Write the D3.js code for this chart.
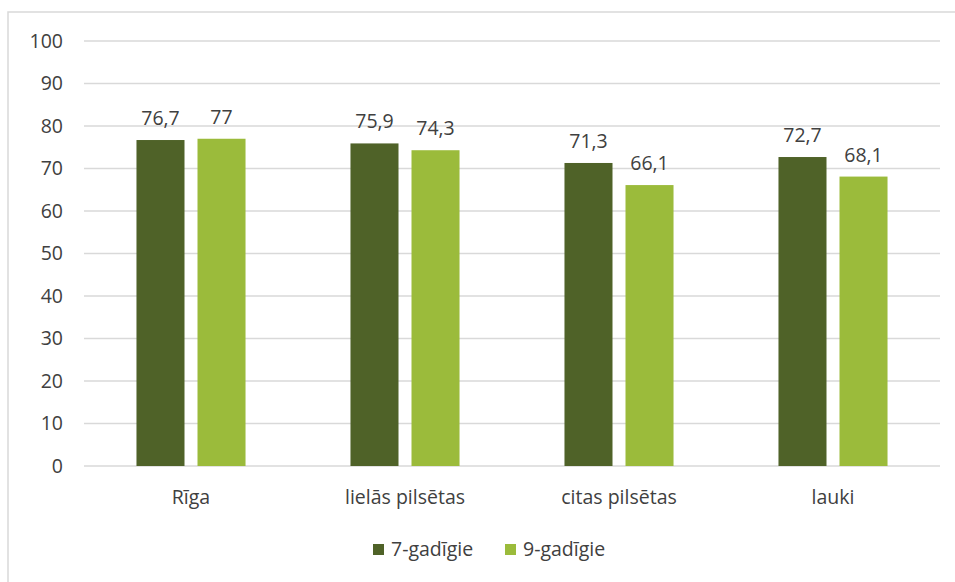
<!DOCTYPE html>
<html><head><meta charset="utf-8">
<script src="https://cdn.jsdelivr.net/npm/d3@7"></script>
<style>body{margin:0;background:#fff}svg{display:block}</style>
</head><body>
<svg id="c" width="955" height="582"></svg>
<script>
const categories = ["Rīga", "lielās pilsētas", "citas pilsētas", "lauki"];
const seriesNames = ["7-gadīgie", "9-gadīgie"];
const values7 = [76.7, 75.9, 71.3, 72.7];
const values9 = [77, 74.3, 66.1, 68.1];
const yTicks = [0, 10, 20, 30, 40, 50, 60, 70, 80, 90, 100];
const colors = ["#4F6228", "#9BBB3B"];

const svg = d3.select("#c");
const font = "'Open Sans', sans-serif";
const fs = 19.5;
const textColor = "#404040";

// frame
svg.append("rect").attr("x", 8).attr("y", 12).attr("width", 960).attr("height", 600)
  .attr("fill", "#fff").attr("stroke", "#D9D9D9").attr("stroke-width", 1.5);

const plotL = 84, plotR = 940, plotT = 41, plotB = 466;
const x = d3.scaleBand().domain(categories).range([plotL, plotR]);
const y = d3.scaleLinear().domain([0, 100]).range([plotB, plotT]);
const inner = d3.scaleBand().domain([0, 1]).range([0, x.bandwidth()]).paddingInner(0.213).paddingOuter(0.86);

// gridlines
svg.append("g").selectAll("line").data(yTicks).join("line")
  .attr("x1", plotL).attr("x2", plotR)
  .attr("y1", d => y(d)).attr("y2", d => y(d))
  .attr("stroke", "#D9D9D9").attr("stroke-width", 1.5);

// y axis labels
const yAxis = d3.axisLeft(y).tickValues(yTicks).tickSize(0).tickPadding(0);
const yg = svg.append("g").attr("transform", `translate(${plotL - 21},0)`).call(yAxis);
yg.select(".domain").remove();
yg.selectAll("text").attr("font-family", font).attr("font-size", fs).attr("fill", textColor);

// x axis labels
const xAxis = d3.axisBottom(x).tickSize(0).tickPadding(0);
const xg = svg.append("g").attr("transform", `translate(0,${plotB + 24})`).call(xAxis);
xg.select(".domain").remove();
xg.selectAll("text").attr("font-family", font).attr("font-size", fs).attr("fill", textColor);

const series = [values7, values9];
series.forEach((vals, si) => {
  const g = svg.append("g");
  g.selectAll("rect").data(vals).join("rect")
    .attr("x", (d, i) => x(categories[i]) + inner(si))
    .attr("width", inner.bandwidth())
    .attr("y", d => y(d))
    .attr("height", d => y(0) - y(d))
    .attr("fill", colors[si]);
  g.selectAll("text").data(vals).join("text")
    .attr("x", (d, i) => x(categories[i]) + inner(si) + inner.bandwidth() / 2)
    .attr("y", d => y(d) - 15)
    .attr("text-anchor", "middle")
    .attr("font-family", font).attr("font-size", fs).attr("fill", textColor)
    .text(d => String(d).replace(".", ","));
});

// legend
const legend = svg.append("g").attr("transform", "translate(373,549)");
const items = [{name: seriesNames[0], c: colors[0], dx: 0}, {name: seriesNames[1], c: colors[1], dx: 132}];
items.forEach(it => {
  const lg = legend.append("g").attr("transform", `translate(${it.dx},0)`);
  lg.append("rect").attr("x", 0).attr("y", -5).attr("width", 11).attr("height", 11).attr("fill", it.c);
  lg.append("text").attr("x", 18).attr("y", 0).attr("dy", "0.35em")
    .attr("font-family", font).attr("font-size", fs).attr("fill", textColor).text(it.name);
});
</script>
</body></html>
